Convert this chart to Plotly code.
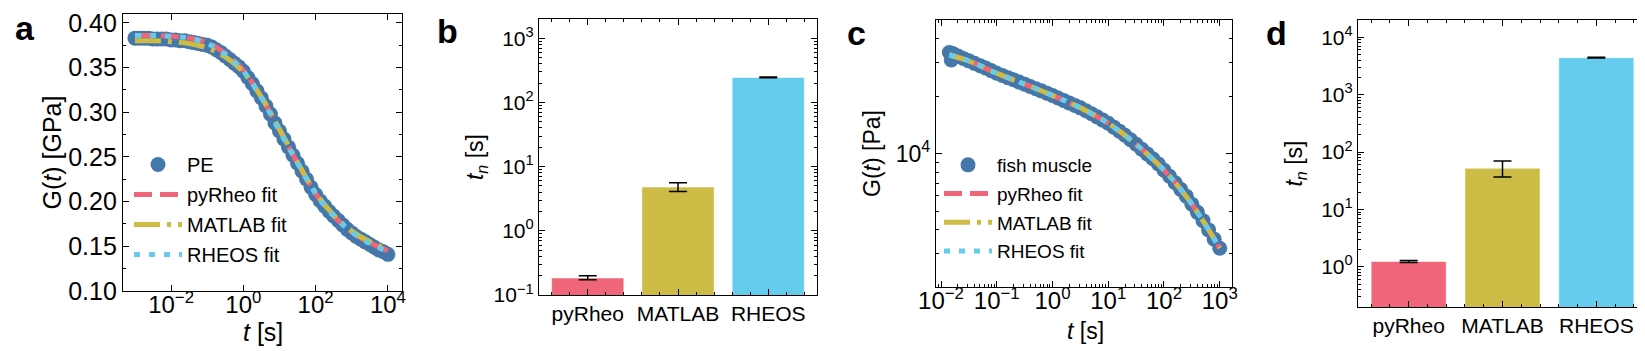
import plotly.graph_objects as go
from plotly.subplots import make_subplots

W, H = 1645, 351
FONT = "Liberation Sans, Arial, sans-serif"
BLUE = "#4477AA"
RED = "#EE6677"
YELLOW = "#CCBB44"
CYAN = "#66CCEE"

# ---- panel a: PE relaxation modulus [GPa]
t_pe = [0.001, 0.00133, 0.00178, 0.00237, 0.00316, 0.00422, 0.00562, 0.0075,
        0.01, 0.0133, 0.0178, 0.0237, 0.0316, 0.0422, 0.0562, 0.075,
        0.1, 0.133, 0.178, 0.237, 0.316, 0.422, 0.562, 0.75,
        1, 1.33, 1.78, 2.37, 3.16, 4.22, 5.62, 7.5,
        10, 13.3, 17.8, 23.7, 31.6, 42.2, 56.2, 75,
        100, 133, 178, 237, 316, 422, 562, 750,
        1000, 1330, 1780, 2370, 3160, 4220, 5620, 7500, 10000]
g_pe = [0.383, 0.383, 0.383, 0.383, 0.382, 0.382, 0.382, 0.382,
        0.381, 0.381, 0.380, 0.380, 0.379, 0.378, 0.377, 0.376,
        0.375, 0.373, 0.370, 0.367, 0.363, 0.359, 0.355, 0.351,
        0.346, 0.339, 0.332, 0.324, 0.316, 0.307, 0.298, 0.288,
        0.279, 0.270, 0.261, 0.252, 0.243, 0.234, 0.225, 0.216,
        0.208, 0.201, 0.195, 0.189, 0.184, 0.179, 0.174, 0.169,
        0.165, 0.161, 0.158, 0.155, 0.152, 0.149, 0.146, 0.144, 0.141]

t_fit_pe = [0.001, 0.00316, 0.01, 0.0316, 0.1, 0.316, 1, 3.16, 10, 31.6,
            100, 316, 1000, 3160, 10000]
g_pyrheo_pe = [0.386, 0.386, 0.385, 0.383, 0.378, 0.366, 0.347, 0.317, 0.280,
               0.243, 0.209, 0.184, 0.166, 0.154, 0.145]
g_matlab_pe = [0.380, 0.380, 0.379, 0.377, 0.372, 0.362, 0.345, 0.317, 0.281,
               0.244, 0.210, 0.185, 0.167, 0.155, 0.147]
g_rheos_pe = [0.386, 0.386, 0.385, 0.383, 0.377, 0.365, 0.346, 0.316, 0.279,
              0.243, 0.209, 0.184, 0.166, 0.153, 0.144]

# ---- panel c: fish muscle relaxation modulus [Pa]
t_fish = [0.0141, 0.0153, 0.0167,
          0.01585, 0.01995, 0.02512, 0.03162, 0.03981, 0.05012, 0.0631, 0.07943,
          0.1, 0.1259, 0.1585, 0.1995, 0.2512, 0.3162, 0.3981, 0.5012, 0.631, 0.7943,
          1, 1.259, 1.585, 1.995, 2.512, 3.162, 3.981, 5.012, 6.31, 7.943,
          10, 12.59, 15.85, 19.95, 25.12, 31.62, 39.81, 50.12, 63.1, 79.43,
          100, 125.9, 158.5, 199.5, 251.2, 316.2, 398.1, 501.2, 631, 794.3, 1000]
g_fish = [33800, 30900, 33200,
          33340, 32430, 31480, 30550, 29650, 28840, 28050, 27160,
          26300, 25640, 24950, 24320, 23660, 23070, 22440, 21830, 21280, 20700,
          20140, 19540, 18970, 18410, 17860, 17340, 16750, 16140, 15560, 14960,
          14390, 13740, 13090, 12450, 11800, 11170, 10540, 9950, 9380, 8810,
          8180, 7600, 7030, 6490, 5980, 5430, 4920, 4450, 3980, 3560, 3190]

t_fit_fish = [0.0141, 0.0316, 0.1, 0.316, 1, 3.16, 10, 31.6, 100, 178, 316, 562, 1000]
g_pyrheo_fish = [32900, 30550, 26300, 23070, 20140, 17340, 14390, 11170, 8180,
                 6760, 5430, 4210, 3190]
g_matlab_fish = [32800, 30500, 26300, 23070, 20140, 17340, 14390, 11170, 8180,
                 6760, 5430, 4210, 3200]
g_rheos_fish = [32900, 30550, 26300, 23070, 20140, 17340, 14390, 11170, 8180,
                6760, 5430, 4210, 3190]

# ---- panels b and d: t_n [s] per method
methods = ["pyRheo", "MATLAB", "RHEOS"]
method_pos = [0, 1, 2]
bar_colors = [RED, YELLOW, CYAN]
tn_pe = [0.184, 4.8, 245]
tn_pe_plus = [0.016, 0.8, 3]
tn_pe_minus = [0.011, 0.7, 3]
tn_fish = [1.24, 52, 4410]
tn_fish_plus = [0.05, 18, 60]
tn_fish_minus = [0.05, 15.4, 60]


def pow10(e):
    return "10<sup>" + ("\u2212" if e < 0 else "") + str(abs(e)) + "</sup>"


def dom_x(a, b):
    return [a / W, b / W]


def dom_y(top, bottom):
    return [1 - bottom / H, 1 - top / H]


def decade_minors(lo, hi):
    vals = []
    for e in range(lo, hi + 1):
        for m in range(2, 10):
            vals.append(m * 10.0 ** e)
    return vals


fig = make_subplots(rows=1, cols=4)

DASH = "18px,8px"
DASHDOT = "26px,7px,4px,7px"
DOT = "6px,9px"
MS = 15


def fit_line(x, y, name, color, dash, group, legend):
    return go.Scatter(x=x, y=y, mode="lines", name=name,
                      line=dict(color=color, dash=dash, shape="spline", width=5),
                      legendgroup=group, legend=legend)


def bars(y, plus, minus):
    return go.Bar(x=method_pos, y=y, width=0.8, showlegend=False,
                  marker=dict(color=bar_colors, line=dict(width=1, color="rgba(255,255,255,0.55)")),
                  error_y=dict(type="data", array=plus, arrayminus=minus,
                               color="black", thickness=1.5, width=9))


# panel a
fig.add_trace(go.Scatter(x=t_pe, y=g_pe, mode="markers", name="PE",
                         marker=dict(color=BLUE, size=MS), legendgroup="a0",
                         legend="legend"), row=1, col=1)
fig.add_trace(fit_line(t_fit_pe, g_pyrheo_pe, "pyRheo fit", RED, DASH, "a1", "legend"), row=1, col=1)
fig.add_trace(fit_line(t_fit_pe, g_matlab_pe, "MATLAB fit", YELLOW, DASHDOT, "a2", "legend"), row=1, col=1)
fig.add_trace(fit_line(t_fit_pe, g_rheos_pe, "RHEOS fit", CYAN, DOT, "a3", "legend"), row=1, col=1)

# panel b
fig.add_trace(bars(tn_pe, tn_pe_plus, tn_pe_minus), row=1, col=2)

# panel c
fig.add_trace(go.Scatter(x=t_fish, y=g_fish, mode="markers", name="fish muscle",
                         marker=dict(color=BLUE, size=MS), legendgroup="c0",
                         legend="legend2"), row=1, col=3)
fig.add_trace(fit_line(t_fit_fish, g_pyrheo_fish, "pyRheo fit", RED, DASH, "c1", "legend2"), row=1, col=3)
fig.add_trace(fit_line(t_fit_fish, g_matlab_fish, "MATLAB fit", YELLOW, DASHDOT, "c2", "legend2"), row=1, col=3)
fig.add_trace(fit_line(t_fit_fish, g_rheos_fish, "RHEOS fit", CYAN, DOT, "c3", "legend2"), row=1, col=3)

# panel d
fig.add_trace(bars(tn_fish, tn_fish_plus, tn_fish_minus), row=1, col=4)

axis_common = dict(showline=True, linecolor="black", linewidth=1.2, mirror="ticks",
                   ticks="inside", ticklen=6, tickwidth=1, tickcolor="black",
                   showgrid=False, zeroline=False, color="black", automargin=False)
minor_common = dict(ticks="inside", ticklen=3, tickwidth=1, tickcolor="black", showgrid=False)

# panel a axes (x title drawn as annotation below)
fig.update_xaxes(axis_common, row=1, col=1, type="log", domain=dom_x(115, 394),
                 range=[-3.33, 4.39], tickmode="array",
                 tickvals=[0.01, 1, 100, 10000], ticktext=[pow10(-2), pow10(0), pow10(2), pow10(4)],
                 ticklabelstandoff=-8, tickfont=dict(size=24))
fig.update_yaxes(axis_common, row=1, col=1, domain=dom_y(6, 283), range=[0.10, 0.41],
                 dtick=0.05, tick0=0.1, tickformat=".2f",
                 minor=dict(minor_common, dtick=0.025, tick0=0.1),
                 tickfont=dict(size=25), title=dict(text="G(<i>t</i>) [GPa]", font=dict(size=25)))

# panel b axes
bar_x = dict(range=[-0.54, 2.54], tickmode="array", tickvals=method_pos, ticktext=methods,
             minor=dict(minor_common, dtick=0.2, tick0=0), tickfont=dict(size=21))
fig.update_xaxes(axis_common, row=1, col=2, domain=dom_x(531, 809), **bar_x)
fig.update_yaxes(axis_common, row=1, col=2, type="log", domain=dom_y(11, 287), range=[-1, 3.3],
                 tickmode="array", tickvals=[0.1, 1, 10, 100, 1000],
                 ticktext=[pow10(-1), pow10(0), pow10(1), pow10(2), pow10(3)],
                 minor=dict(minor_common, tickvals=decade_minors(-1, 3)),
                 tickfont=dict(size=21), title=dict(text="<i>t<sub>n</sub></i> [s]", font=dict(size=23)))

# panel c axes
fig.update_xaxes(axis_common, row=1, col=3, type="log", domain=dom_x(928, 1224),
                 range=[-2.09, 3.22], tickmode="array",
                 tickvals=[0.01, 0.1, 1, 10, 100, 1000],
                 ticktext=[pow10(e) for e in range(-2, 4)],
                 minor=dict(minor_common, tickvals=decade_minors(-3, 3)),
                 ticklabelstandoff=-8, tickfont=dict(size=24))
fig.update_yaxes(axis_common, row=1, col=3, type="log", domain=dom_y(12, 279),
                 range=[3.30103, 4.69897], tickmode="array", tickvals=[10000], ticktext=[pow10(4)],
                 minor=dict(minor_common, tickvals=decade_minors(3, 4)),
                 tickfont=dict(size=23), title=dict(text="G(<i>t</i>) [Pa]", font=dict(size=23)))

# panel d axes
fig.update_xaxes(axis_common, row=1, col=4, domain=dom_x(1350, 1639), **bar_x)
fig.update_yaxes(axis_common, row=1, col=4, type="log", domain=dom_y(12, 299), range=[-0.7, 4.3],
                 tickmode="array", tickvals=[1, 10, 100, 1000, 10000],
                 ticktext=[pow10(e) for e in range(0, 5)],
                 minor=dict(minor_common, tickvals=decade_minors(-1, 4)),
                 tickfont=dict(size=21), title=dict(text="<i>t<sub>n</sub></i> [s]", font=dict(size=23)))

legend_common = dict(xanchor="left", yanchor="top", bgcolor="rgba(0,0,0,0)",
                     tracegroupgap=1, font=dict(size=20, color="black"), itemwidth=48)
fig.update_layout(
    template="none",
    width=W, height=H,
    margin=dict(l=0, r=0, t=0, b=0, autoexpand=False),
    paper_bgcolor="white", plot_bgcolor="white",
    font=dict(family=FONT, color="black"),
    legend=dict(legend_common, x=121 / W, y=1 - 137 / H),
    legend2=dict(legend_common, x=931 / W, y=1 - 138 / H, font=dict(size=19, color="black")),
)

# x-axis titles of the curve panels
for px, py, size in [(255, 324, 25), (1077, 323, 23)]:
    fig.add_annotation(text="<i>t</i> [s]", x=px / W, y=1 - py / H, xref="paper", yref="paper",
                       showarrow=False, xanchor="center", yanchor="middle",
                       font=dict(size=size, family=FONT, color="black"))

for txt, px, py in [("a", 17, 20), ("b", 440, 23), ("c", 848, 25), ("d", 1268, 25)]:
    fig.add_annotation(text="<b>" + txt + "</b>", x=px / W, y=1 - py / H, xref="paper", yref="paper",
                       showarrow=False, xanchor="center", yanchor="middle",
                       font=dict(size=34, family=FONT, color="black"))

fig.write_html("out.html")
